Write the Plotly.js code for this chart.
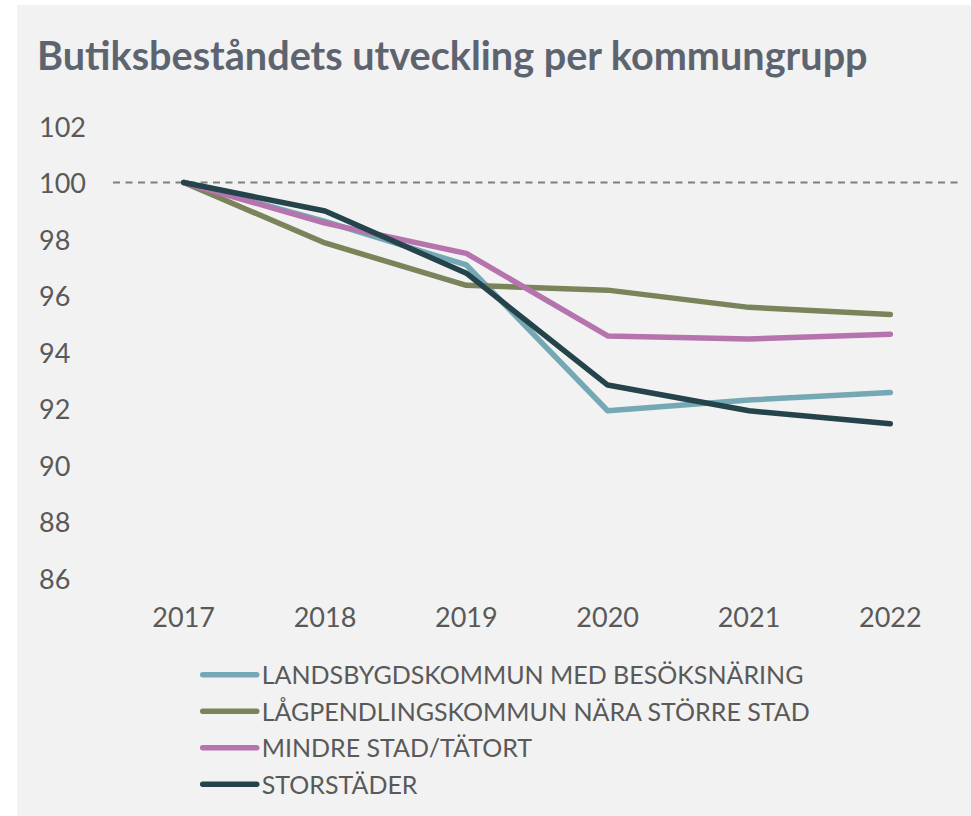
<!DOCTYPE html>
<html>
<head>
<meta charset="utf-8">
<script src="https://cdn.plot.ly/plotly-3.0.1.min.js"></script>
<style>
  html, body { margin: 0; padding: 0; background: #ffffff; }
  #chart { position: absolute; left: 17px; top: 5px; width: 954px; height: 811px; }
</style>
</head>
<body>
<div id="chart"></div>
<script>
const years = ['2017', '2018', '2019', '2020', '2021', '2022'];
const landsbygd = [100, 98.62, 97.08, 91.92, 92.30, 92.57];
const lagpendling = [100, 97.86, 96.36, 96.19, 95.58, 95.33];
const mindreStad = [100, 98.56, 97.49, 94.57, 94.46, 94.63];
const storstader = [100, 98.99, 96.79, 92.83, 91.92, 91.46];
const seriesNames = ['LANDSBYGDSKOMMUN MED BESÖKSNÄRING', 'LÅGPENDLINGSKOMMUN NÄRA STÖRRE STAD', 'MINDRE STAD/TÄTORT', 'STORSTÄDER'];
const seriesColors = ['#74a8b4', '#7a845a', '#b574ad', '#25434a'];
const yTickValues = [86, 88, 90, 92, 94, 96, 98, 100, 102];
const yTickLabels = ['86', '88', '90', '92', '94', '96', '98', '100', '102'];
const titleText = 'Butiksbeståndets utveckling per kommungrupp';

const allSeries = [landsbygd, lagpendling, mindreStad, storstader];
const FONT = 'Lato, "Open Sans", sans-serif';
const TEXT = '#595959';

const traces = allSeries.map((vals, i) => ({
  type: 'scatter',
  mode: 'lines',
  x: years,
  y: vals,
  name: seriesNames[i],
  legendgroup: 'g' + i,
  line: { color: seriesColors[i], width: 5.5, shape: 'linear' },
  cliponaxis: false,
  hoverinfo: 'skip'
}));

const annotations = yTickValues.map((v, i) => ({
  xref: 'paper', yref: 'y',
  x: -0.0902, y: v,
  xanchor: 'left', yanchor: 'middle',
  text: yTickLabels[i],
  showarrow: false,
  font: { family: FONT, size: 27, color: TEXT }
}));

const layout = {
  width: 954, height: 811,
  paper_bgcolor: '#f2f2f2',
  plot_bgcolor: '#f2f2f2',
  margin: { l: 96, r: 10, t: 121, b: 238, pad: 0, autoexpand: false },
  title: {
    text: '<b>' + titleText + '</b>',
    xref: 'container', yref: 'container',
    x: 20 / 954, xanchor: 'left',
    y: 1 - 51 / 811, yanchor: 'middle',
    font: { family: FONT, size: 39.6, color: '#5d6470' }
  },
  showlegend: true,
  legend: {
    orientation: 'v',
    traceorder: 'grouped',
    tracegroupgap: 1,
    xref: 'paper', yref: 'paper',
    x: 0.0999, xanchor: 'left',
    y: -0.1637, yanchor: 'top',
    bgcolor: 'rgba(0,0,0,0)',
    borderwidth: 0,
    itemwidth: 54,
    font: { family: FONT, size: 25, color: TEXT }
  },
  xaxis: {
    type: 'category',
    range: [-0.5, 5.5],
    showgrid: false, zeroline: false, showline: false,
    ticks: '',
    tickangle: 0,
    ticklabelstandoff: 21,
    tickfont: { family: FONT, size: 27, color: TEXT },
    fixedrange: true
  },
  yaxis: {
    range: [86, 102],
    showgrid: false, zeroline: false, showline: false,
    showticklabels: false,
    ticks: '',
    fixedrange: true
  },
  shapes: [{
    type: 'line', xref: 'paper', yref: 'y',
    x0: 0, x1: 1, y0: 100, y1: 100,
    line: { color: '#7f7f7f', width: 1.8, dash: '7px,5.5px' },
    layer: 'below'
  }],
  annotations: annotations
};

Plotly.newPlot('chart', traces, layout, { displayModeBar: false, staticPlot: true }).then(() => {
  document.querySelectorAll('.scatterlayer path.js-line, .legend path.js-line').forEach(p => {
    p.style.strokeLinecap = 'round';
    p.style.strokeLinejoin = 'round';
  });
});
</script>
</body>
</html>
